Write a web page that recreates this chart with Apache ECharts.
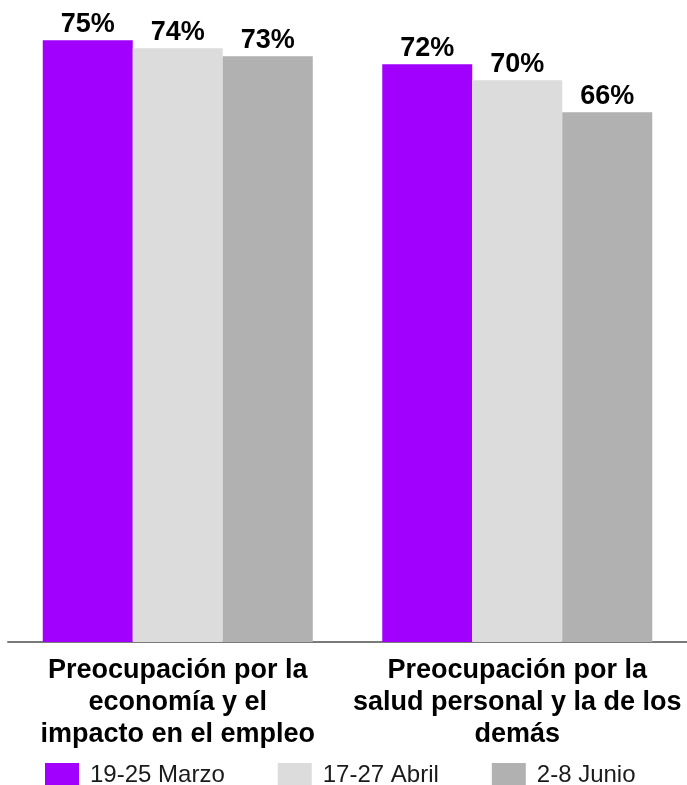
<!DOCTYPE html>
<html>
<head>
<meta charset="utf-8">
<script src="https://cdn.jsdelivr.net/npm/echarts@6/dist/echarts.min.js"></script>
<style>
  html, body { margin: 0; padding: 0; background: #ffffff; }
  #chart { width: 687px; height: 785px; }
</style>
</head>
<body>
<div id="chart"></div>
<script>
// Concern categories (multi-line labels)
const categories = [
  'Preocupación por la\neconomía y el\nimpacto en el empleo',
  'Preocupación por la\nsalud personal y la de los\ndemás'
];

// Survey waves
const seriesNames = ['19-25 Marzo', '17-27 Abril', '2-8 Junio'];

// Share of respondents (%) per wave
const marzo = [75, 72];
const abril = [74, 70];
const junio = [73, 66];

const seriesValues = [marzo, abril, junio];
const seriesColors = ['#A100FF', '#DCDCDC', '#B1B1B1'];

const FONT = '"Liberation Sans", Arial, Helvetica, sans-serif';

const chart = echarts.init(document.getElementById('chart'), null, { renderer: 'canvas' });

chart.setOption({
  animation: false,
  backgroundColor: '#ffffff',
  grid: { left: 8, right: -4, top: -2, bottom: 143, containLabel: false },
  legend: {
    left: 40,
    top: 758,
    itemWidth: 34,
    itemHeight: 25,
    itemGap: 53,
    icon: 'rect',
    data: seriesNames,
    textStyle: {
      fontFamily: FONT,
      fontSize: 24,
      color: '#1a1a1a',
      padding: [0, 0, 0, 6]
    }
  },
  xAxis: {
    type: 'category',
    data: categories,
    axisLine: { show: true, lineStyle: { color: '#7a7a7a', width: 2 } },
    axisTick: { show: false },
    axisLabel: {
      interval: 0,
      margin: 13,
      fontFamily: FONT,
      fontWeight: 'bold',
      fontSize: 27,
      lineHeight: 32,
      color: '#000000',
      align: 'center'
    }
  },
  yAxis: {
    type: 'value',
    min: 0,
    max: 80,
    show: false,
    splitLine: { show: false }
  },
  series: seriesNames.map((name, i) => ({
    name: name,
    type: 'bar',
    data: seriesValues[i],
    barWidth: 90,
    barGap: '0%',
    itemStyle: { color: seriesColors[i] },
    label: {
      show: true,
      position: 'top',
      distance: 2,
      formatter: '{c}%',
      fontFamily: FONT,
      fontWeight: 'bold',
      fontSize: 27,
      color: '#000000'
    }
  }))
});
</script>
</body>
</html>
